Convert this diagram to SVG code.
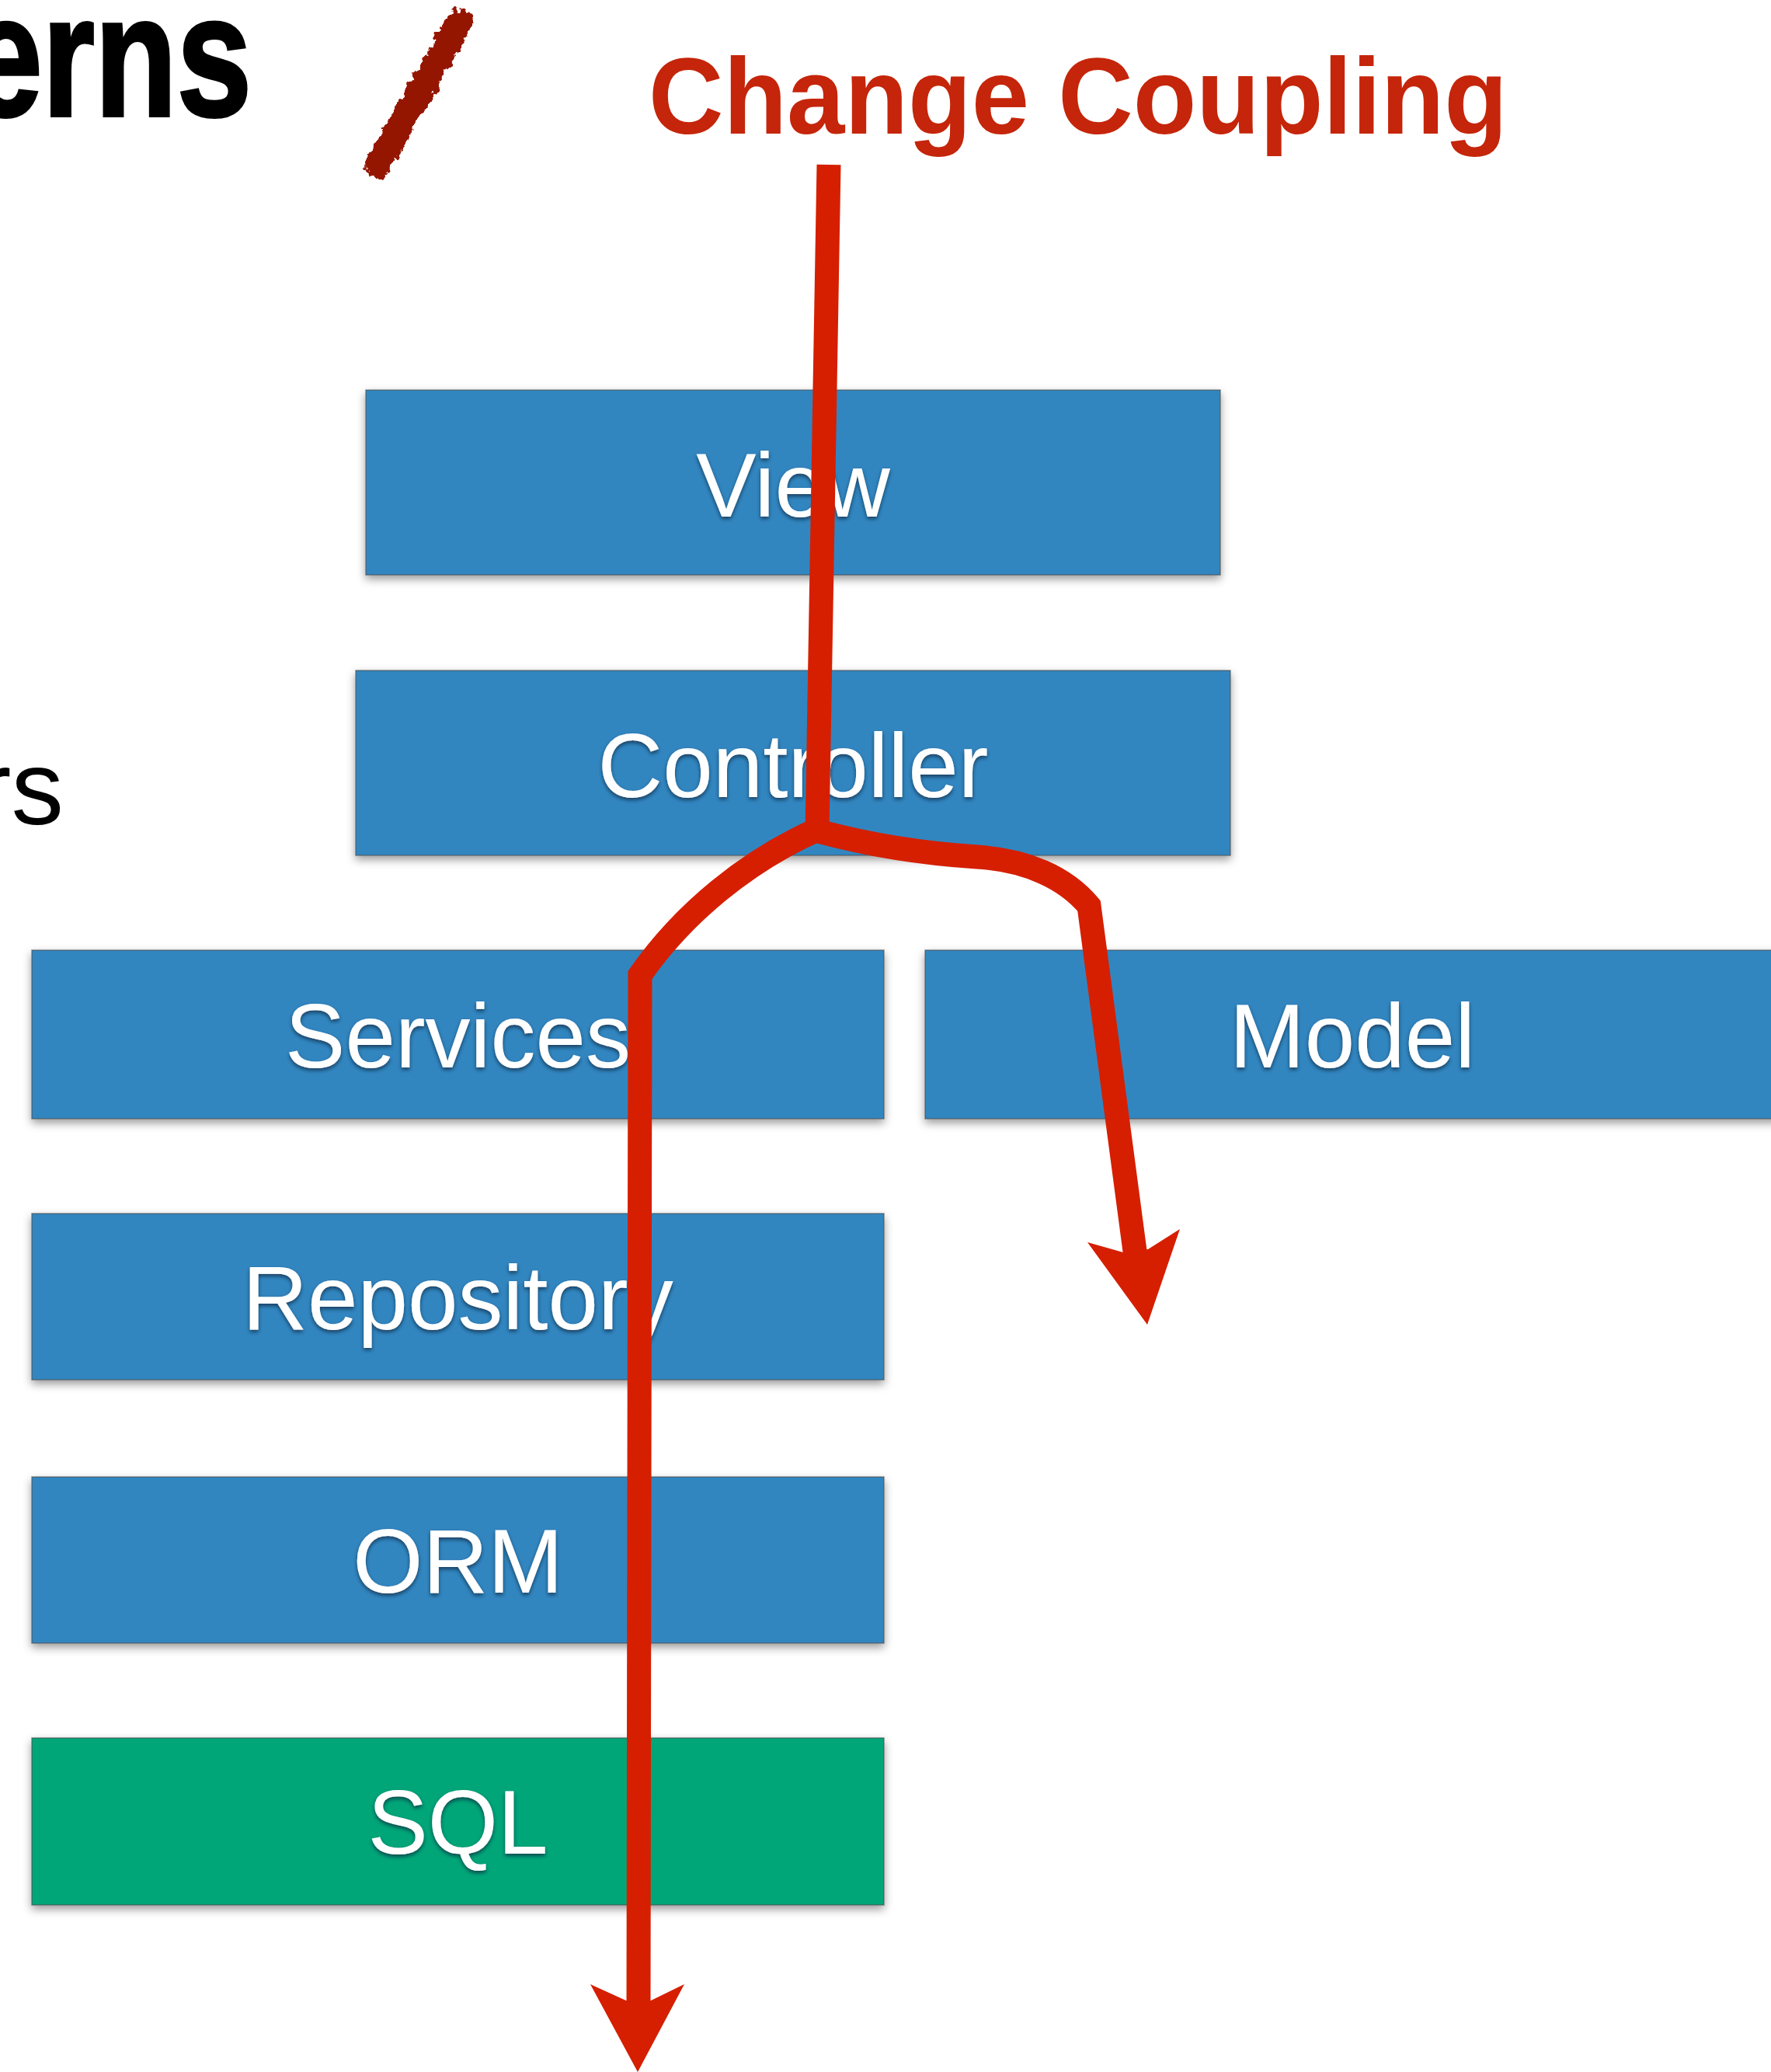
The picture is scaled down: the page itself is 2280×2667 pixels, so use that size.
<svg xmlns="http://www.w3.org/2000/svg" width="2280" height="2667" viewBox="0 0 2280 2667">
<defs>
<style>
.box{fill:#3286C0;stroke:#4a4a4a;stroke-opacity:0.6;stroke-width:1.5;filter:url(#shadow)}
.green{fill:#00A678}
.lbl{font-family:"Liberation Sans",Arial,sans-serif;font-size:116px;fill:#ffffff;text-anchor:middle;filter:url(#tshadow)}
.wire{fill:none;stroke:#D51F00;stroke-width:31;stroke-linejoin:miter;stroke-miterlimit:10}
.head{fill:#D51F00}
</style>
<filter id="shadow" x="-5%" y="-10%" width="110%" height="130%">
<feDropShadow dx="0" dy="5" stdDeviation="6" flood-color="#000" flood-opacity="0.4"/>
</filter>
<filter id="tshadow" x="-10%" y="-20%" width="120%" height="150%">
<feDropShadow dx="0" dy="3" stdDeviation="2.5" flood-color="#0a2a40" flood-opacity="0.75"/>
</filter>
<filter id="rough" x="-30%" y="-30%" width="160%" height="160%">
<feTurbulence type="fractalNoise" baseFrequency="0.09" numOctaves="3" seed="7" result="t"/>
<feDisplacementMap in="SourceGraphic" in2="t" scale="18" xChannelSelector="R" yChannelSelector="G"/>
</filter>
</defs>
<rect width="2280" height="2667" fill="#ffffff"/>

<g id="title-fragment">
<text transform="translate(324,149) scale(0.78,1)" text-anchor="end" font-family="Liberation Sans,Arial,sans-serif" font-weight="bold" font-size="222" fill="#000" stroke="#000" stroke-width="4">erns</text>
</g>
<g id="brush-slash" filter="url(#rough)">
<path d="M486,212 L592,28" stroke="#951400" stroke-width="34" stroke-linecap="round" fill="none"/>
</g>
<g id="side-fragment">
<text x="82" y="1061" text-anchor="end" font-family="Liberation Sans,Arial,sans-serif" font-size="135" fill="#000">rs</text>
</g>
<g id="heading">
<text x="835" y="172" font-family="Liberation Sans,Arial,sans-serif" font-weight="bold" font-size="139" fill="#C5250A" textLength="1106" lengthAdjust="spacingAndGlyphs">Change Coupling</text>
</g>

<g id="view"><rect class="box" x="471" y="502" width="1100" height="238"/><text class="lbl" x="1021" y="665">View</text></g>
<g id="controller"><rect class="box" x="458" y="863" width="1126" height="238"/><text class="lbl" x="1021" y="1026">Controller</text></g>
<g id="services"><rect class="box" x="41" y="1223" width="1097" height="217"/><text class="lbl" x="589.5" y="1374">Services</text></g>
<g id="model"><rect class="box" x="1191" y="1223" width="1100" height="217"/><text class="lbl" x="1741" y="1374">Model</text></g>
<g id="repository"><rect class="box" x="41" y="1562" width="1097" height="214"/><text class="lbl" x="589.5" y="1711">Repository</text></g>
<g id="orm"><rect class="box" x="41" y="1901" width="1097" height="214"/><text class="lbl" x="589.5" y="2050">ORM</text></g>
<g id="sql"><rect class="box green" x="41" y="2237" width="1097" height="215"/><text class="lbl" x="589.5" y="2386">SQL</text></g>

<g id="connectors">
<path class="wire" d="M1067,212 L1052,1072"/>
<path class="wire" d="M1052,1068 C962,1108 880,1175 824,1255 L822,2590"/>
<polygon class="head" points="760,2554 806,2575 838,2575 881,2554 821,2667"/>
<path class="wire" d="M1054,1070 Q1150,1096 1258,1103 C1322,1107 1372,1130 1402,1166 L1462,1618"/>
<polygon class="head" points="1400,1599 1446,1612 1478,1608 1519,1582 1477,1705"/>
</g>
</svg>
